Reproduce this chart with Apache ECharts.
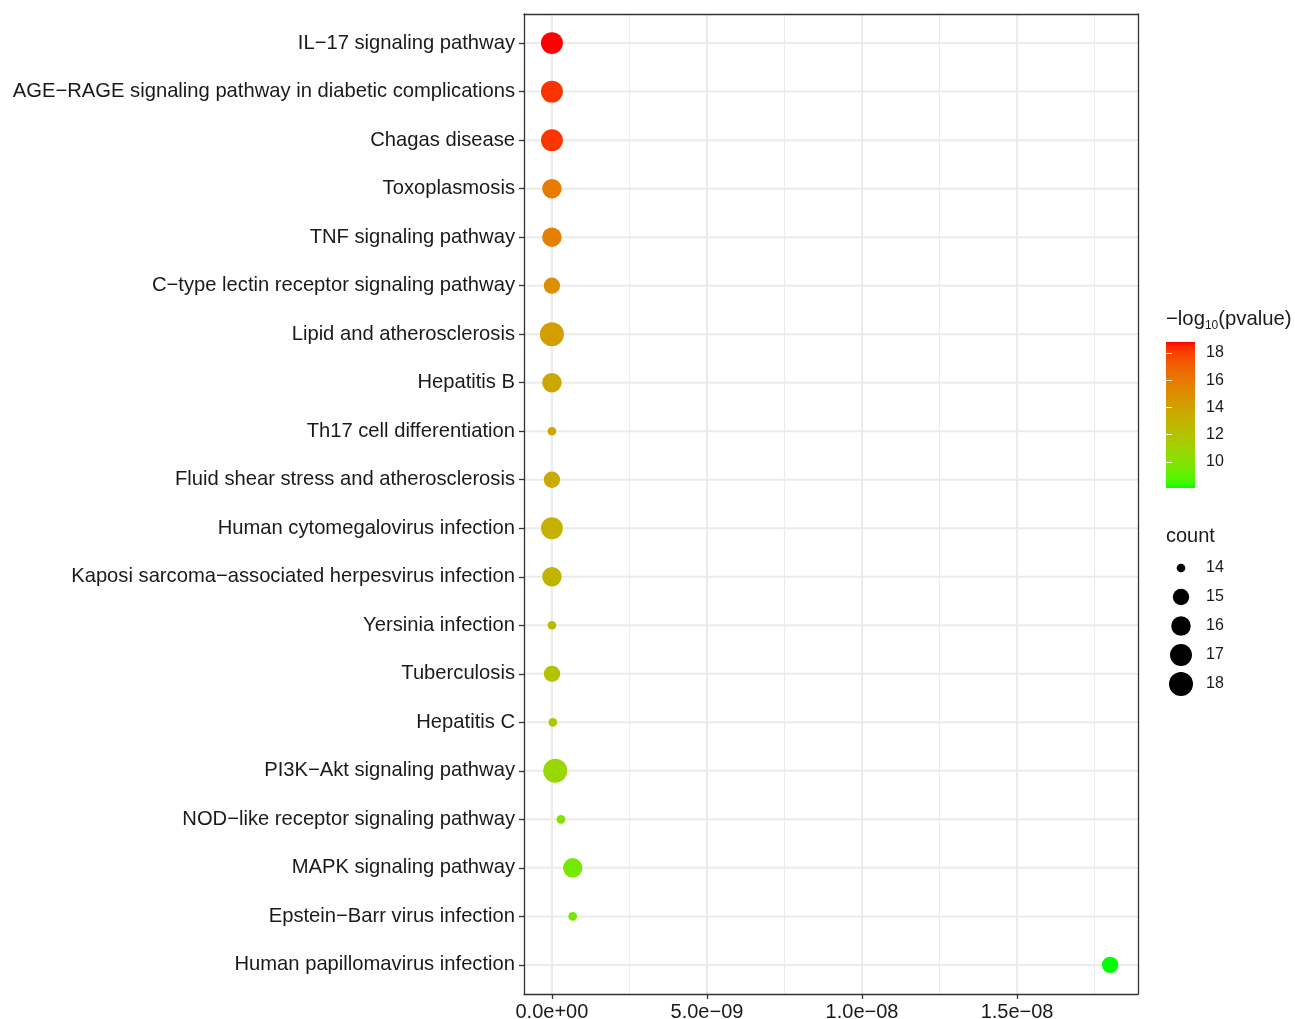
<!DOCTYPE html>
<html>
<head>
<meta charset="utf-8">
<script src="https://cdn.jsdelivr.net/npm/echarts@6/dist/echarts.min.js"></script>
<style>
  html, body { margin: 0; padding: 0; background: #ffffff; }
  #chart { width: 1295px; height: 1019px; }
</style>
</head>
<body>
<div id="chart"></div>
<script>
// KEGG enrichment: pathway, adjusted p-value (x), -log10(pvalue) (colour), gene count (size)
const pathways = [
  'IL\u221217 signaling pathway',
  'AGE\u2212RAGE signaling pathway in diabetic complications',
  'Chagas disease',
  'Toxoplasmosis',
  'TNF signaling pathway',
  'C\u2212type lectin receptor signaling pathway',
  'Lipid and atherosclerosis',
  'Hepatitis B',
  'Th17 cell differentiation',
  'Fluid shear stress and atherosclerosis',
  'Human cytomegalovirus infection',
  'Kaposi sarcoma\u2212associated herpesvirus infection',
  'Yersinia infection',
  'Tuberculosis',
  'Hepatitis C',
  'PI3K\u2212Akt signaling pathway',
  'NOD\u2212like receptor signaling pathway',
  'MAPK signaling pathway',
  'Epstein\u2212Barr virus infection',
  'Human papillomavirus infection'
];
const padj = [
  6.8e-18, 1.2e-17, 1.2e-17, 1.3e-15, 1.8e-15,
  8.0e-15, 4.0e-14, 1.2e-13, 1.2e-13, 1.2e-13,
  3.0e-13, 4.6e-13, 1.4e-12, 2.8e-12, 3.0e-11,
  1.07e-10, 2.9e-10, 6.7e-10, 6.7e-10, 1.80e-8
];
const negLog10P = [
  18.81, 18.27, 18.22, 15.92, 15.70,
  14.95, 14.20, 13.66, 13.60, 13.55,
  13.13, 12.90, 12.38, 12.05, 11.52,
  10.77, 9.97, 9.59, 9.55, 8.09
];
const counts = [
  17, 17, 17, 16, 16,
  15, 18, 16, 14, 15,
  17, 16, 14, 15, 14,
  18, 14, 16, 14, 15
];
const xTicks = [0, 5e-9, 1e-8, 1.5e-8];
const xMinorBreaks = [2.5e-9, 7.5e-9, 1.25e-8, 1.75e-8];
const colorBreaks = [10, 12, 14, 16, 18];
const sizeBreaks = [14, 15, 16, 17, 18];

const FONT = '"Liberation Sans", Arial, Helvetica, sans-serif';
const TEXT = '#1a1a1a';
const FRAME = '#333333';
const GRID_LINE = '#ebebeb';

// ---- colour scale: green -> red, interpolated in CIE Lab ----
const WHITE = [0.95047, 1.0, 1.08883];
function toLinear(c) { c /= 255; return c <= 0.04045 ? c / 12.92 : Math.pow((c + 0.055) / 1.055, 2.4); }
function toSrgb(c) { c = Math.max(0, Math.min(1, c)); return c <= 0.0031308 ? 12.92 * c : 1.055 * Math.pow(c, 1 / 2.4) - 0.055; }
function rgbToLab(rgb) {
  const [r, g, b] = rgb.map(toLinear);
  const x = 0.4124 * r + 0.3576 * g + 0.1805 * b;
  const y = 0.2126 * r + 0.7152 * g + 0.0722 * b;
  const z = 0.0193 * r + 0.1192 * g + 0.9505 * b;
  const f = t => t > 0.008856 ? Math.cbrt(t) : 7.787 * t + 16 / 116;
  const fx = f(x / WHITE[0]), fy = f(y / WHITE[1]), fz = f(z / WHITE[2]);
  return [116 * fy - 16, 500 * (fx - fy), 200 * (fy - fz)];
}
function labToRgb(lab) {
  const fy = (lab[0] + 16) / 116, fx = fy + lab[1] / 500, fz = fy - lab[2] / 200;
  const inv = t => t * t * t > 0.008856 ? t * t * t : (t - 16 / 116) / 7.787;
  const x = WHITE[0] * inv(fx), y = WHITE[1] * inv(fy), z = WHITE[2] * inv(fz);
  const r = 3.2406 * x - 1.5372 * y - 0.4986 * z;
  const g = -0.9689 * x + 1.8758 * y + 0.0415 * z;
  const b = 0.0557 * x - 0.2040 * y + 1.0570 * z;
  return [r, g, b].map(c => Math.round(255 * toSrgb(c)));
}
const LAB_LOW = rgbToLab([0, 255, 0]);
const LAB_HIGH = rgbToLab([255, 0, 0]);
const cMin = Math.min(...negLog10P);
const cMax = Math.max(...negLog10P);
function colorAtFraction(t) {
  const lab = LAB_LOW.map((v, k) => v + (LAB_HIGH[k] - v) * t);
  const rgb = labToRgb(lab);
  return 'rgb(' + rgb.join(',') + ')';
}
function colorFor(v) { return colorAtFraction((v - cMin) / (cMax - cMin)); }

// ---- size scale: diameter grows with sqrt of the rescaled count ----
const SIZE_RANGE = [8.7, 24];
const nMin = Math.min(...counts);
const nMax = Math.max(...counts);
function sizeFor(n) {
  const t = (n - nMin) / (nMax - nMin);
  return SIZE_RANGE[0] + (SIZE_RANGE[1] - SIZE_RANGE[0]) * Math.sqrt(Math.max(0, t));
}

function sciLabel(v) {
  const s = Number(v).toExponential(1);
  const [m, e] = s.split('e');
  const sign = e[0] === '-' ? '\u2212' : '+';
  const digits = e.replace(/[+-]/, '').padStart(2, '0');
  return m + 'e' + sign + digits;
}

const rowIdx = pathways.map((_, i) => i);
const gradientStops = [];
for (let k = 0; k <= 40; k++) {
  gradientStops.push({ offset: k / 40, color: colorAtFraction(1 - k / 40) });
}

// grid lines of the panel, drawn through the axes' own scales
function hLineItem(params, api) {
  const cs = params.coordSys;
  const y = api.coord([0, api.value(1)])[1];
  return {
    type: 'line',
    shape: { x1: cs.x, y1: y, x2: cs.x + cs.width, y2: y },
    style: { stroke: GRID_LINE, lineWidth: api.value(2) }
  };
}
function vLineItem(params, api) {
  const cs = params.coordSys;
  const x = api.coord([api.value(0), 0])[0];
  return {
    type: 'line',
    shape: { x1: x, y1: cs.y, x2: x, y2: cs.y + cs.height },
    style: { stroke: GRID_LINE, lineWidth: api.value(2) }
  };
}

const chart = echarts.init(document.getElementById('chart'), null, { renderer: 'canvas' });

const option = {
  backgroundColor: '#ffffff',
  animation: false,
  textStyle: { fontFamily: FONT },
  title: [
    {
      left: 1166, top: 306, padding: 0,
      text: '\u2212log{s|10}(pvalue)',
      textStyle: {
        fontFamily: FONT, fontSize: 20.3, fontWeight: 'normal', color: TEXT, lineHeight: 26,
        rich: { s: { fontFamily: FONT, fontSize: 12, lineHeight: 14, verticalAlign: 'bottom', color: TEXT } }
      }
    },
    {
      left: 1166, top: 523, padding: 0,
      text: 'count',
      textStyle: { fontFamily: FONT, fontSize: 20, fontWeight: 'normal', color: TEXT, lineHeight: 26 }
    }
  ],
  grid: [
    { left: 524, top: 14, width: 614, height: 980, containLabel: false, outerBoundsMode: 'none' },
    { left: 1166, top: 342, width: 29, height: 146, containLabel: false, outerBoundsMode: 'none' },
    { left: 1166, top: 553.5, width: 30, height: 145, containLabel: false, outerBoundsMode: 'none' }
  ],
  xAxis: [
    {
      gridIndex: 0, type: 'value', min: -9e-10, max: 1.89e-8, position: 'bottom', z: 5,
      axisLine: { show: true, onZero: false, lineStyle: { color: FRAME, width: 1.3 } },
      axisTick: { show: true, customValues: xTicks, length: 5, lineStyle: { color: FRAME, width: 1.3 } },
      axisLabel: { customValues: xTicks, formatter: sciLabel, fontSize: 20, color: TEXT, margin: 8, fontFamily: FONT },
      splitLine: { show: false }
    },
    {
      gridIndex: 0, type: 'value', min: -9e-10, max: 1.89e-8, position: 'top', z: 5,
      axisLine: { show: true, onZero: false, lineStyle: { color: FRAME, width: 1.3 } },
      axisTick: { show: false }, axisLabel: { show: false }, splitLine: { show: false }
    },
    {
      gridIndex: 1, type: 'value', min: 0, max: 1, show: false
    },
    {
      gridIndex: 2, type: 'category', data: [''], show: false
    }
  ],
  yAxis: [
    {
      gridIndex: 0, type: 'value', min: -0.6, max: 19.6, inverse: true, position: 'left', z: 5,
      axisLine: { show: true, onZero: false, lineStyle: { color: FRAME, width: 1.3 } },
      axisTick: { show: true, customValues: rowIdx, length: 5, lineStyle: { color: FRAME, width: 1.3 } },
      axisLabel: {
        customValues: rowIdx, formatter: v => pathways[Math.round(v)],
        fontSize: 20.2, color: TEXT, margin: 9, fontFamily: FONT, padding: [3, 0, 0, 0]
      },
      splitLine: { show: false }
    },
    {
      gridIndex: 0, type: 'value', min: -0.6, max: 19.6, inverse: true, position: 'right', z: 5,
      axisLine: { show: true, onZero: false, lineStyle: { color: FRAME, width: 1.3 } },
      axisTick: { show: false }, axisLabel: { show: false }, splitLine: { show: false }
    },
    {
      gridIndex: 1, type: 'value', min: cMin, max: cMax, position: 'right', z: 10,
      axisLine: { show: false },
      axisTick: { show: true, inside: true, customValues: colorBreaks, length: 6, lineStyle: { color: '#ffffff', width: 1 } },
      axisLabel: { customValues: colorBreaks, fontSize: 16, color: TEXT, margin: 11, fontFamily: FONT, padding: [2, 0, 0, 0] },
      splitLine: { show: false }
    },
    {
      gridIndex: 1, type: 'value', min: cMin, max: cMax, position: 'left', z: 10,
      axisLine: { show: false },
      axisTick: { show: true, inside: true, customValues: colorBreaks, length: 6, lineStyle: { color: '#ffffff', width: 1 } },
      axisLabel: { show: false },
      splitLine: { show: false }
    },
    {
      gridIndex: 2, type: 'category', data: sizeBreaks.map(String), inverse: true, position: 'right',
      axisLine: { show: false }, axisTick: { show: false },
      axisLabel: { fontSize: 16, color: TEXT, margin: 10, fontFamily: FONT, padding: [2, 0, 0, 0] },
      splitLine: { show: false }
    }
  ],
  series: [
    {
      // horizontal grid lines at each pathway
      type: 'custom', xAxisIndex: 0, yAxisIndex: 0, z: 1, silent: true,
      data: rowIdx.map(i => [0, i, 2]),
      renderItem: hLineItem
    },
    {
      // vertical grid lines: major breaks, then minor breaks
      type: 'custom', xAxisIndex: 0, yAxisIndex: 0, z: 1, silent: true,
      data: [...xTicks.map(v => [v, 0, 2]), ...xMinorBreaks.map(v => [v, 0, 1])],
      renderItem: vLineItem
    },
    {
      type: 'scatter', xAxisIndex: 0, yAxisIndex: 0, z: 3,
      data: pathways.map((p, i) => [padj[i], i, negLog10P[i], counts[i]]),
      symbol: 'circle',
      symbolSize: d => sizeFor(d[3]),
      itemStyle: { color: p => colorFor(p.data[2]), opacity: 1 }
    },
    {
      // colour bar
      type: 'custom', xAxisIndex: 2, yAxisIndex: 2, z: 2, silent: true,
      data: [[cMin, cMax]],
      renderItem: (params, api) => {
        const top = api.coord([0, api.value(1)]);
        const bottom = api.coord([1, api.value(0)]);
        return {
          type: 'rect',
          shape: { x: top[0], y: top[1], width: bottom[0] - top[0], height: bottom[1] - top[1] },
          style: { fill: new echarts.graphic.LinearGradient(0, 0, 0, 1, gradientStops) }
        };
      }
    },
    {
      // size key
      type: 'scatter', xAxisIndex: 3, yAxisIndex: 4, z: 3, silent: true,
      data: sizeBreaks.map((c, i) => [0, i, c]),
      symbol: 'circle',
      symbolSize: d => sizeFor(d[2]),
      itemStyle: { color: '#000000', opacity: 1 }
    }
  ]
};

chart.setOption(option);
</script>
</body>
</html>
